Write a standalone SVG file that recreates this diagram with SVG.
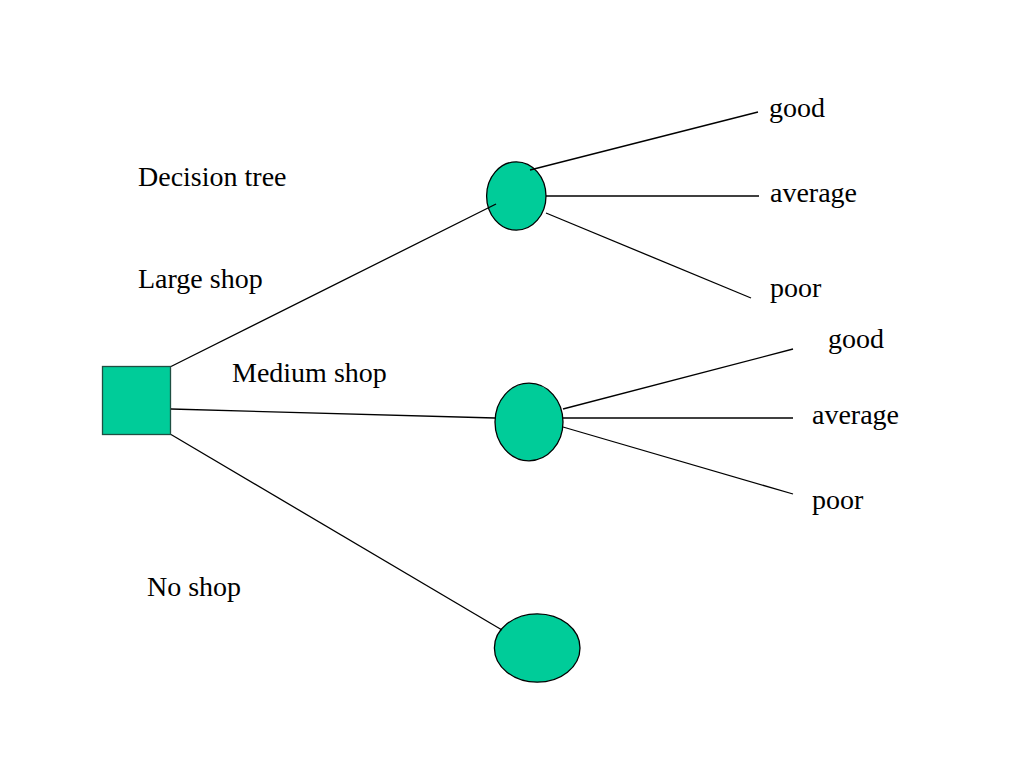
<svg xmlns="http://www.w3.org/2000/svg" width="1024" height="768" viewBox="0 0 1024 768">
<style>
.n{fill:#00CC99;stroke:#000;stroke-width:1.3}
.c line{stroke:#000;stroke-width:1.3}
text{font-family:"Liberation Serif","Times New Roman",serif;font-size:28px;fill:#000}
</style>
<rect width="1024" height="768" fill="#fff"/>
<g id="decision"><rect class="n" x="102.5" y="366.5" width="68" height="68" style="stroke:#1f4f42"/></g>
<g id="chance-large"><ellipse class="n" cx="516.3" cy="196" rx="29.7" ry="34.2"/></g>
<g id="chance-medium"><ellipse class="n" cx="529" cy="422" rx="34" ry="38.8"/></g>
<g id="chance-none"><ellipse class="n" cx="537.2" cy="648" rx="42.8" ry="34.2"/></g>
<g id="connectors" class="c">
<line x1="171" y1="366.5" x2="496" y2="204"/>
<line x1="171" y1="409" x2="495" y2="418"/>
<line x1="171" y1="434.5" x2="502" y2="630"/>
<line x1="530" y1="170" x2="758" y2="112"/>
<line x1="546" y1="196" x2="759" y2="196"/>
<line x1="546" y1="213" x2="751" y2="298"/>
<line x1="563" y1="409" x2="793" y2="349"/>
<line x1="563" y1="418" x2="793" y2="418"/>
<line x1="563" y1="427" x2="793" y2="494"/>
</g>
<g id="labels">
<text x="138" y="186">Decision tree</text>
<text x="138" y="288">Large shop</text>
<text x="232" y="382">Medium shop</text>
<text x="147" y="596">No shop</text>
<text x="769" y="117">good</text>
<text x="770" y="202">average</text>
<text x="770" y="297">poor</text>
<text x="828" y="348">good</text>
<text x="812" y="424">average</text>
<text x="812" y="509">poor</text>
</g>
</svg>
